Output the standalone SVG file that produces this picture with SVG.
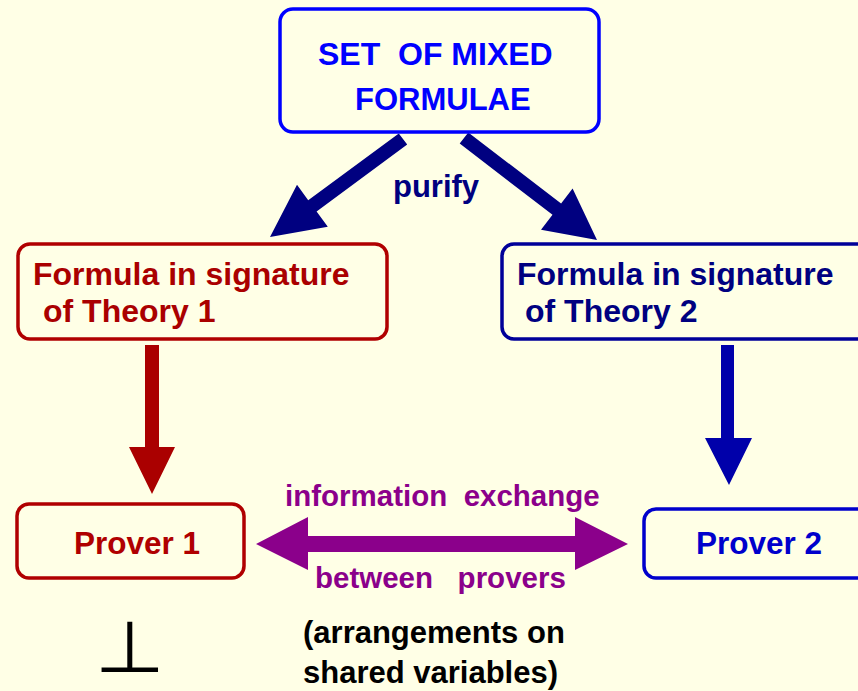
<svg xmlns="http://www.w3.org/2000/svg" width="858" height="691" viewBox="0 0 858 691">
<style>
text{font-family:"Liberation Sans",Arial,sans-serif;font-weight:bold}
.box{fill:#FFFFE6;stroke-width:3.5}
.big{font-size:32px}
.small{font-size:29.5px}
</style>
<rect x="0" y="0" width="858" height="691" fill="#FFFFE6"/>
<g id="connectors">
<polygon id="purify-left" fill="#000080" points="398.8,133.4 407.2,144.6 316.6,211.4 327.8,226.8 270,237 297,184.8 308.2,200.2"/>
<polygon id="purify-right" fill="#000080" points="468.3,132.4 561.1,203.6 572.6,188.6 597,240 541,229.8 552.5,214.8 459.7,143.6"/>
<polygon id="t1-p1" fill="#AA0000" points="145,345 159,345 159,447 175,447 152,494 129,447 145,447"/>
<polygon id="t2-p2" fill="#0000AA" points="721,345 734,345 734,438 752,438 729,485 705,438 721,438"/>
<polygon id="exchange" fill="#8B008B" points="256,544 308,517 308,536 575,536 575,517 628,544 575,570 575,552 308,552 308,570"/>
<text x="393" y="197" fill="#000080" font-size="31">purify</text>
<text class="small" x="285" y="506" fill="#8B008B" xml:space="preserve">information  exchange</text>
<text class="small" x="315" y="588" fill="#8B008B" xml:space="preserve">between   provers</text>
</g>
<g id="mixed">
<rect class="box" x="280" y="9" width="319" height="123" rx="13" stroke="#0000FF" stroke-width="4"/>
<text x="318" y="65" fill="#0000FF" font-size="32" xml:space="preserve">SET  OF MIXED</text>
<text x="355" y="110" fill="#0000FF" font-size="31">FORMULAE</text>
</g>
<g id="theory1">
<rect class="box" x="18" y="244" width="369" height="95" rx="12" stroke="#B00000"/>
<text class="big" x="33" y="285" fill="#AA0000">Formula in signature</text>
<text class="big" x="43" y="322" fill="#AA0000">of Theory 1</text>
</g>
<g id="theory2">
<rect class="box" x="502" y="244" width="380" height="95" rx="12" stroke="#000099"/>
<text class="big" x="517" y="285" fill="#000080">Formula in signature</text>
<text class="big" x="525" y="322" fill="#000080">of Theory 2</text>
</g>
<g id="prover1">
<rect class="box" x="17" y="504" width="227" height="74" rx="12" stroke="#B00000"/>
<text x="74" y="554" fill="#B00000" font-size="31.5">Prover 1</text>
</g>
<g id="prover2">
<rect class="box" x="644" y="509" width="240" height="69" rx="12" stroke="#0000CC"/>
<text x="696" y="554" fill="#0000CC" font-size="31.5">Prover 2</text>
</g>
<g id="note">
<text x="303" y="643" fill="#000000" font-size="31">(arrangements on</text>
<text x="303" y="683" fill="#000000" font-size="31">shared variables)</text>
</g>
<g id="bottom">
<text x="0" y="0" transform="translate(130,672) scale(1.12,1)" font-size="72" text-anchor="middle" fill="#000000" style="font-family:'DejaVu Sans',sans-serif;font-weight:normal">⊥</text>
</g>
</svg>
